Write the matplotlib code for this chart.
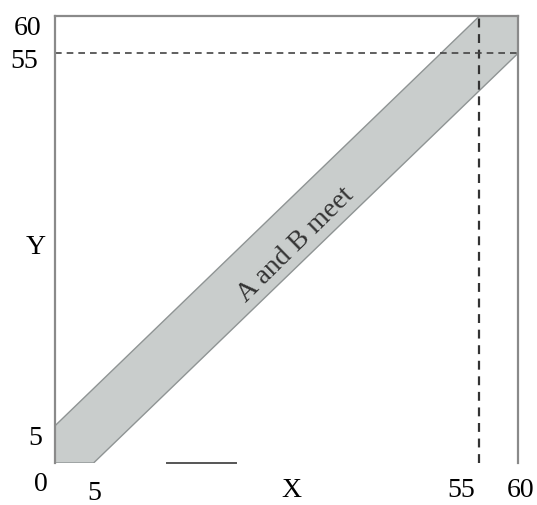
import matplotlib.pyplot as plt
from matplotlib.patches import Polygon

plt.rcParams['font.family'] = ['Liberation Serif', 'DejaVu Serif']

# band where A and B meet: |x - y| <= 5 on [0, 60]
band_x = [0, 5, 60, 60, 55, 0]
band_y = [0, 0, 55, 60, 60, 5]
limit = 60
cut = 55
# label text and where it sits (data coords)
labels = ["60", "55", "5", "0", "Y", "5", "X", "55", "60"]
label_x = [-3.5, -4.0, -2.6, -1.8, -2.5, 5.05, 30.6, 52.7, 60.4]
label_y = [58.5, 54.0, 3.4, -2.7, 29.1, -3.9, -3.5, -3.6, -3.6]

fig = plt.figure(figsize=(5.37, 5.06), dpi=100)
ax = fig.add_axes([0.1024, 0.083, 0.862, 0.883])
ax.set_xlim(0, limit)
ax.set_ylim(0, limit)
ax.set_xticks([])
ax.set_yticks([])
for s in ["left", "top", "right"]:
    ax.spines[s].set_color("#8a8a8a")
    ax.spines[s].set_linewidth(1.6)
ax.spines["bottom"].set_visible(False)

band = Polygon(list(zip(band_x, band_y)), closed=True, facecolor="#c9cdcc",
               edgecolor="#8f9494", linewidth=1.0)
ax.add_patch(band)

ax.plot([cut, cut], [0, limit], linestyle=(0, (4, 3)), color="#333333", lw=1.6, clip_on=False)
ax.plot([0, limit], [cut, cut], linestyle=(0, (4, 3)), color="#444444", lw=1.2, clip_on=False)

# stray baseline fragment
ax.plot([14.5, 23.5], [0, 0], color="#555555", lw=1.4, clip_on=False)

ax.text(31.2, 29.4, "A and B meet", rotation=44.5, ha="center", va="center",
        fontsize=20, color="#333333")

for t, x, y in zip(labels, label_x, label_y):
    ax.text(x, y, t, ha="center", va="center", fontsize=20, clip_on=False)

fig.savefig("out.png", dpi=100)
